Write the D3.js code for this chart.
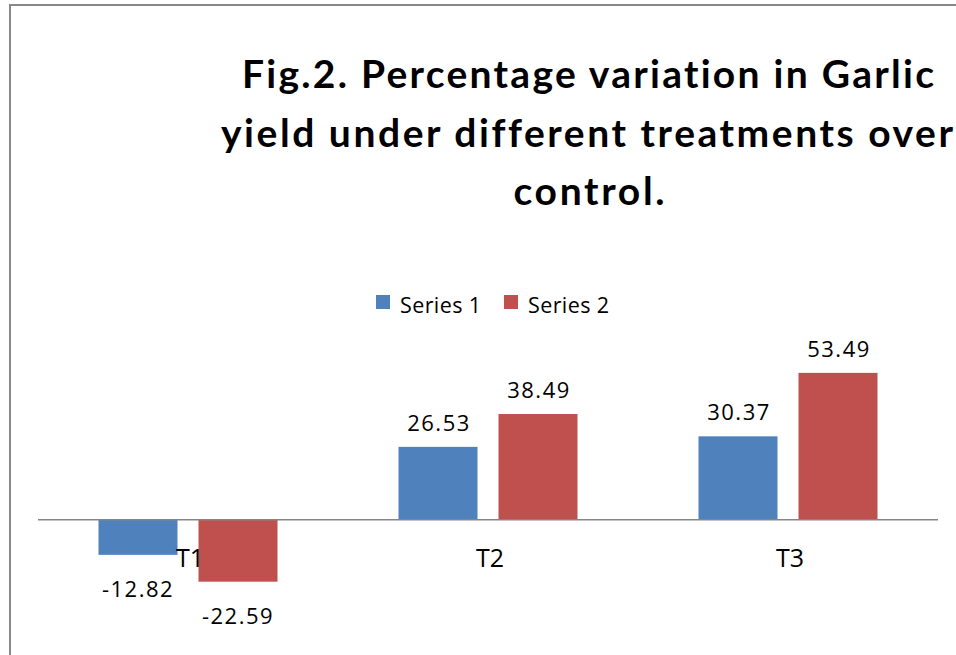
<!DOCTYPE html>
<html>
<head>
<meta charset="utf-8">
<script src="https://cdn.jsdelivr.net/npm/d3@7"></script>
<style>
  body { margin: 0; background: #fff; overflow: hidden; }
  svg { display: block; }
  .title { font-family: Lato, "Open Sans", sans-serif; font-weight: bold; font-size: 39px; font-variant-ligatures: none; fill: #000; }
  .lbl { font-family: "Open Sans", sans-serif; font-size: 22px; letter-spacing: 1.5px; fill: #000; }
  .leg { font-family: "Open Sans", sans-serif; font-size: 21.5px; letter-spacing: 0.4px; fill: #000; }
  .cat { font-family: "Open Sans", sans-serif; font-size: 25px; fill: #000; }
</style>
</head>
<body>
<div class="js-vis"></div>
<script>
const categories = ['T1', 'T2', 'T3']
const seriesNames = ['Series 1', 'Series 2']
const series1 = [-12.82, 26.53, 30.37]
const series2 = [-22.59, 38.49, 53.49]
const colors = ['#4F81BD', '#C0504D']
const titleLines = ['Fig.2. Percentage variation in Garlic',
                    'yield under different treatments over',
                    'control.']
// rendered width and centre of each title line
const titleWidths = [692, 732, 151]
const titleCentres = [588, 587, 589]

const width = 956, height = 655

const svg = d3.select('.js-vis').append('svg')
    .attr('width', width)
    .attr('height', height)

// chart frame
svg.append('rect')
    .attr('x', 10).attr('y', 5)
    .attr('width', 1000).attr('height', 700)
    .attr('fill', 'none')
    .attr('stroke', '#888')
    .attr('stroke-width', 2)

svg.selectAll('.title')
    .data(titleLines)
  .enter().append('text')
    .attr('class', 'title')
    .attr('text-anchor', 'middle')
    .attr('x', (d, i) => titleCentres[i])
    .attr('y', (d, i) => 88 + i * 58.5)
    .attr('textLength', (d, i) => titleWidths[i])
    .attr('lengthAdjust', 'spacing')
    .text(String)

const rows = categories.map((c, i) => ({ cat: c, vals: [series1[i], series2[i]] }))

const x0 = d3.scaleBand()
    .domain(categories)
    .range([38, 938])

const x1 = d3.scaleBand()
    .domain(seriesNames)
    .range([0, x0.bandwidth()])
    .paddingInner(0.21)
    .paddingOuter(0.605)

const y = d3.scaleLinear()
    .domain([-30, 60])
    .range([602, 355])

const groups = svg.selectAll('.grp')
    .data(rows)
  .enter().append('g')
    .attr('class', 'grp')
    .attr('transform', d => 'translate(' + x0(d.cat) + ',0)')

groups.selectAll('.bar')
    .data(d => d.vals.map((v, i) => ({ name: seriesNames[i], v: v, i: i })))
  .enter().append('rect')
    .attr('class', 'bar')
    .attr('x', d => x1(d.name))
    .attr('width', x1.bandwidth())
    .attr('y', d => y(Math.max(0, d.v)))
    .attr('height', d => Math.abs(y(d.v) - y(0)))
    .attr('fill', d => colors[d.i])

groups.selectAll('.lbl')
    .data(d => d.vals.map((v, i) => ({ name: seriesNames[i], v: v })))
  .enter().append('text')
    .attr('class', 'lbl')
    .attr('text-anchor', 'middle')
    .attr('x', d => x1(d.name) + x1.bandwidth() / 2 + (d.v >= 0 ? 1 : 0))
    .attr('y', d => d.v >= 0 ? y(d.v) - 16 : y(d.v) + 42)
    .text(d => d.v.toFixed(2))

// zero line
svg.append('line')
    .attr('x1', 38).attr('x2', 938)
    .attr('y1', y(0)).attr('y2', y(0))
    .attr('stroke', '#868686')
    .attr('stroke-width', 1.5)

// category axis labels (no ticks)
const xax = d3.axisBottom(x0).tickSize(0).tickPadding(0)
const gx = svg.append('g')
    .attr('transform', 'translate(2,' + y(0) + ')')
    .call(xax)
gx.select('.domain').remove()
gx.attr('font-family', null).attr('font-size', null)
gx.selectAll('text')
    .attr('class', 'cat')
    .attr('dy', null)
    .attr('y', 47)

// legend
const leg = svg.append('g')
const legX = [376, 504]
seriesNames.forEach((s, i) => {
  leg.append('rect')
      .attr('x', legX[i]).attr('y', 295)
      .attr('width', 14).attr('height', 14)
      .attr('fill', colors[i])
  leg.append('text')
      .attr('class', 'leg')
      .attr('x', legX[i] + 24).attr('y', 313)
      .text(s)
})
</script>
</body>
</html>
